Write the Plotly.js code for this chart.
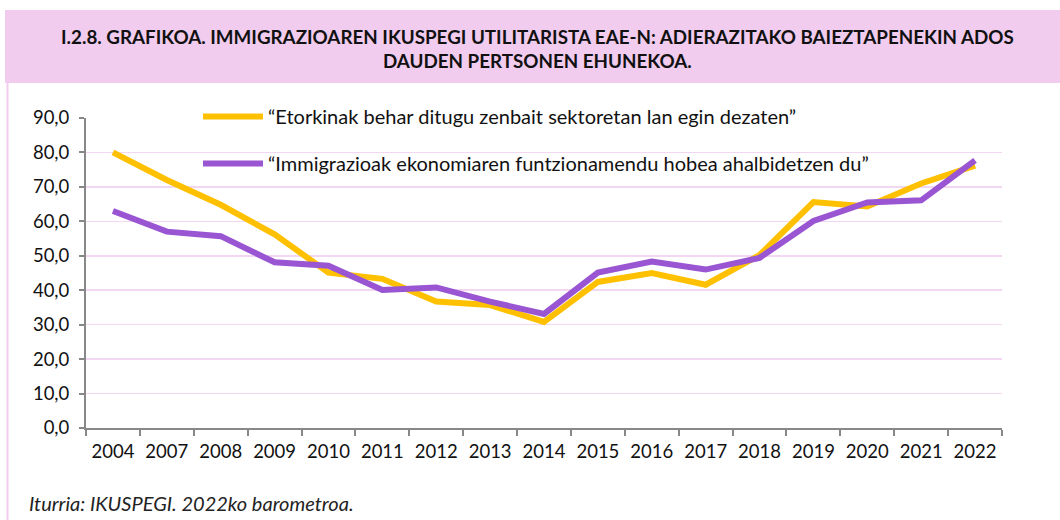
<!DOCTYPE html>
<html><head><meta charset="utf-8">
<script src="https://cdn.plot.ly/plotly-3.0.1.min.js"></script>
<style>html,body{margin:0;padding:0;background:#fff}#chart{width:1060px;height:520px}</style>
</head><body><div id="chart"></div>
<script>
const years = ["2004","2007","2008","2009","2010","2011","2012","2013","2014","2015","2016","2017","2018","2019","2020","2021","2022"];
const etorkinak = [80.0,72.0,64.8,56.2,45.1,43.3,36.7,35.7,30.8,42.4,45.0,41.6,50.2,65.6,64.3,71.0,76.2];
const immigrazioak = [63.0,57.0,55.7,48.1,47.1,40.1,40.8,36.7,33.1,45.1,48.3,46.0,49.4,60.1,65.5,66.1,77.7];
const seriesNames = ["“Etorkinak behar ditugu zenbait sektoretan lan egin dezaten”",
                     "“Immigrazioak ekonomiaren funtzionamendu hobea ahalbidetzen du”"];
const titleText = "I.2.8. GRAFIKOA. IMMIGRAZIOAREN IKUSPEGI UTILITARISTA EAE-N: ADIERAZITAKO BAIEZTAPENEKIN ADOS<br>DAUDEN PERTSONEN EHUNEKOA.";
const sourceText = "Iturria: IKUSPEGI. 2022ko barometroa.";

const L=86, R=1002, T=118, B=428;
const px = x => (x-L)/(R-L);
const py = y => (B-y)/(B-T);
const FONT = "Lato, 'Open Sans', sans-serif";

const traces = [
  {x: years, y: etorkinak, name: seriesNames[0], type:"scatter", mode:"lines",
   line:{color:"#FFC000", width:6}, legendgroup:"a"},
  {x: years, y: immigrazioak, name: seriesNames[1], type:"scatter", mode:"lines",
   line:{color:"#9A55D2", width:6}, legendgroup:"b"}
];

const layout = {
  width:1060, height:520,
  margin:{l:L, r:1060-R, t:T, b:520-B, pad:0},
  paper_bgcolor:"#fff", plot_bgcolor:"#fff",
  font:{family:FONT, size:18, color:"#111"},
  showlegend:true,
  legend:{x:px(198), y:py(97), xanchor:"left", yanchor:"top", bgcolor:"rgba(0,0,0,0)",
          font:{family:FONT, size:20, color:"#111"}, itemwidth:60, tracegroupgap:18,
          traceorder:"grouped"},
  xaxis:{type:"category", range:[-0.5,16.5], tickson:"boundaries", ticks:"outside", ticklen:6, tickcolor:"#888", tickwidth:2,
         showline:true, linecolor:"#888", linewidth:2, showgrid:false, fixedrange:true, ticklabelstandoff:6,
         tickfont:{family:FONT, size:18.5, color:"#111"}},
  yaxis:{range:[0,90], dtick:10, tickformat:".1f", ticks:"outside", ticklen:5, tickcolor:"#888", tickwidth:2,
         showline:true, linecolor:"#888", linewidth:2, gridcolor:"#F3D6F1", gridwidth:1.5, zeroline:false,
         ticklabelstandoff:6, tickfont:{family:FONT, size:18.5, color:"#111"}},
  separators:",.",
  shapes:[
    {type:"rect", xref:"paper", yref:"paper", x0:px(5), x1:px(1062), y0:py(83), y1:py(10),
     fillcolor:"#F1CCEF", line:{width:0}, layer:"below"},
    {type:"line", xref:"paper", yref:"paper", x0:px(7.5), x1:px(7.5), y0:py(83), y1:py(522),
     line:{color:"#F1CCEF", width:2}}
  ],
  annotations:[
    {text:titleText, xref:"paper", yref:"paper", x:px(537), y:py(49), xanchor:"center", yanchor:"middle",
     showarrow:false, font:{family:FONT, size:18.8, color:"#111", weight:"bold"}, align:"center"},
    {text:"<i>"+sourceText+"</i>", xref:"paper", yref:"paper", x:px(27), y:py(503), xanchor:"left", yanchor:"middle",
     showarrow:false, font:{family:FONT, size:20, color:"#222"}}
  ]
};
Plotly.newPlot("chart", traces, layout, {staticPlot:true, displayModeBar:false});
</script></body></html>
